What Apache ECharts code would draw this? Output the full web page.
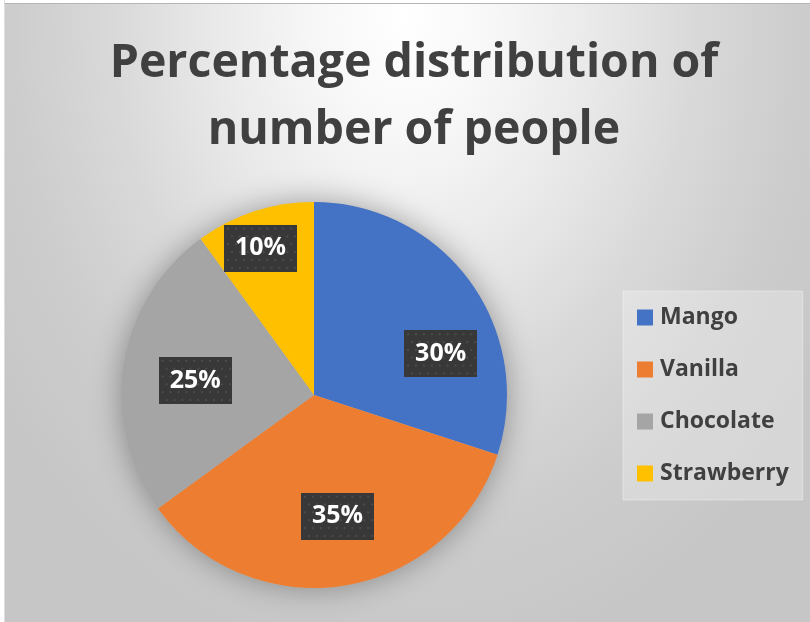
<!DOCTYPE html>
<html>
<head>
<meta charset="utf-8">
<script src="https://cdn.jsdelivr.net/npm/echarts@6/dist/echarts.min.js"></script>
<style>
  html, body { margin: 0; padding: 0; background: #ffffff; }
  #wrap { position: absolute; left: 0; top: 0; width: 810px; height: 622px; overflow: hidden; }
  #chart { position: absolute; left: 0; top: 0; width: 810px; height: 622px;
    background: radial-gradient(ellipse 62% 105% at 50% 3%, #ffffff 0%, #f7f7f7 18%, #e9e9e9 38%, #d9d9d9 58%, #cdcdcd 78%, #c6c6c6 100%); }
  #edgeTop { position: absolute; left: 0; top: 0; width: 810px; height: 3px; background: #ffffff; border-bottom: 1px solid #b4b4b4; }
  #edgeLeft { position: absolute; left: 0; top: 0; width: 4px; height: 622px; background: #ffffff; border-right: 1px solid #dedede; }
</style>
</head>
<body>
<div id="wrap">
  <div id="chart"></div>
  <div id="edgeTop"></div>
  <div id="edgeLeft"></div>
</div>
<script>
// ---- data ----
const titleLines = ['Percentage distribution of', 'number of people'];
const categories = ['Mango', 'Vanilla', 'Chocolate', 'Strawberry'];
const values = [30, 35, 25, 10];

// ---- styles / layout ----
const colors = ['#4472C4', '#ED7D31', '#A5A5A5', '#FFC000'];
const pieCenter = [314, 395];
const pieRadius = 193;
// label placement: angular nudge (deg) and distance ratio from center
const labelPlacement = [
  { turn: 18, r: 0.69 },
  { turn: -2, r: 0.64 },
  { turn: -2, r: 0.62 },
  { turn: -2, r: 0.81 }
];

// dotted dark pattern for label boxes
function makePattern(w, h) {
  const c = document.createElement('canvas');
  c.width = w; c.height = h;
  const g = c.getContext('2d');
  g.fillStyle = '#383838';
  g.fillRect(0, 0, w, h);
  g.fillStyle = '#4c4c4c';
  for (let y = 3; y < h; y += 8) {
    for (let x = (Math.floor(y / 8) % 2) ? 7 : 3; x < w; x += 8) {
      g.fillRect(x, y, 2, 2);
    }
  }
  return c;
}
const boxPattern = makePattern(74, 48);

const total = values.reduce((a, b) => a + b, 0);
const midAngles = [];
{
  let cum = 0;
  values.forEach(v => { midAngles.push((cum + v / 2) / total * 360); cum += v; });
}

const chart = echarts.init(document.getElementById('chart'), null, { renderer: 'canvas' });
chart.setOption({
  backgroundColor: 'transparent',
  animation: false,
  color: colors,
  title: {
    text: titleLines.join('\n'),
    left: 414,
    top: 30,
    textAlign: 'center',
    padding: 0,
    textStyle: {
      fontFamily: 'Open Sans',
      fontWeight: 'bold',
      fontSize: 46.5,
      lineHeight: 67,
      color: '#404040'
    }
  },
  legend: {
    orient: 'vertical',
    left: 623,
    top: 291,
    data: categories,
    icon: 'rect',
    itemWidth: 16,
    itemHeight: 16,
    itemGap: 29,
    padding: [15, 14, 15, 14],
    backgroundColor: 'rgba(255,255,255,0.28)',
    borderColor: 'rgba(255,255,255,0.35)',
    borderWidth: 1,
    textStyle: {
      fontFamily: 'Open Sans',
      fontWeight: 'bold',
      fontSize: 23,
      lineHeight: 21,
      color: '#404040',
      padding: [0, 0, 0, 2]
    }
  },
  series: [
    {
      type: 'pie',
      name: 'halo',
      silent: true,
      center: pieCenter,
      radius: pieRadius,
      startAngle: 90,
      label: { show: false },
      labelLine: { show: false },
      itemStyle: {
        color: '#bbbbbb',
        shadowBlur: 30,
        shadowColor: 'rgba(0,0,0,0.34)'
      },
      data: [{ value: total, name: 'halo' }],
      z: 1
    },
    {
      type: 'pie',
      name: 'people',
      center: pieCenter,
      radius: pieRadius,
      startAngle: 90,
      clockwise: true,
      z: 2,
      itemStyle: { borderWidth: 0 },
      emphasis: { disabled: true },
      labelLine: { show: false },
      label: {
        show: true,
        position: 'inside',
        formatter: '{c}%',
        fontFamily: 'Open Sans',
        fontWeight: 'bold',
        fontSize: 25,
        lineHeight: 25,
        color: '#ffffff',
        padding: [11, 11, 11, 11],
        backgroundColor: { image: boxPattern },
        shadowBlur: 8,
        shadowOffsetX: 4,
        shadowOffsetY: 5,
        shadowColor: 'rgba(0,0,0,0.45)'
      },
      labelLayout: function (params) {
        const i = params.dataIndex;
        const p = labelPlacement[i];
        const a = (midAngles[i] + p.turn) * Math.PI / 180;
        const rr = pieRadius * p.r;
        return {
          x: pieCenter[0] + rr * Math.sin(a),
          y: pieCenter[1] - rr * Math.cos(a),
          align: 'center',
          verticalAlign: 'middle'
        };
      },
      data: categories.map((c, i) => ({ name: c, value: values[i] }))
    }
  ]
});
</script>
</body>
</html>
